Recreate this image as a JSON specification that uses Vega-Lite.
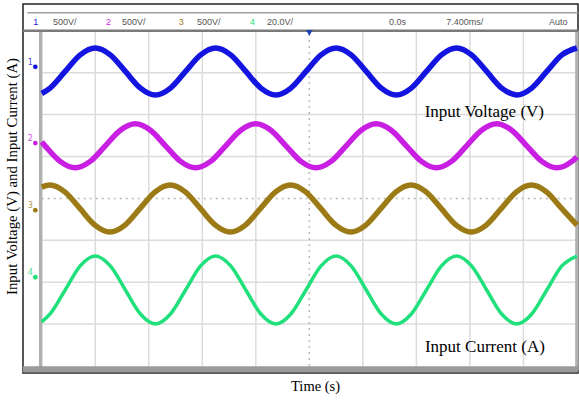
{
  "$schema": "https://vega.github.io/schema/vega-lite/v6.json",
  "width": 555,
  "height": 369,
  "autosize": {"type": "none"},
  "padding": {"left": 23, "top": 4, "right": 1, "bottom": 28},
  "background": "white",
  "config": {"view": {"stroke": "#222", "strokeWidth": 1.5}},
  "datasets": {
    "traces": [
      {"ch": "1", "t": 0, "v": 6.504}, {"ch": "1", "t": 0.156, "v": 6.634}, {"ch": "1", "t": 0.438, "v": 7.03}, {"ch": "1", "t": 0.719, "v": 7.426}, {"ch": "1", "t": 1.0, "v": 7.59}, {"ch": "1", "t": 1.281, "v": 7.426}, {"ch": "1", "t": 1.563, "v": 7.03}, {"ch": "1", "t": 1.844, "v": 6.634}, {"ch": "1", "t": 2.125, "v": 6.47}, {"ch": "1", "t": 2.406, "v": 6.634}, {"ch": "1", "t": 2.688, "v": 7.03}, {"ch": "1", "t": 2.969, "v": 7.426}, {"ch": "1", "t": 3.25, "v": 7.59}, {"ch": "1", "t": 3.531, "v": 7.426}, {"ch": "1", "t": 3.813, "v": 7.03}, {"ch": "1", "t": 4.094, "v": 6.634}, {"ch": "1", "t": 4.375, "v": 6.47}, {"ch": "1", "t": 4.656, "v": 6.634}, {"ch": "1", "t": 4.938, "v": 7.03}, {"ch": "1", "t": 5.219, "v": 7.426}, {"ch": "1", "t": 5.5, "v": 7.59}, {"ch": "1", "t": 5.781, "v": 7.426}, {"ch": "1", "t": 6.063, "v": 7.03}, {"ch": "1", "t": 6.344, "v": 6.634}, {"ch": "1", "t": 6.625, "v": 6.47}, {"ch": "1", "t": 6.906, "v": 6.634}, {"ch": "1", "t": 7.188, "v": 7.03}, {"ch": "1", "t": 7.469, "v": 7.426}, {"ch": "1", "t": 7.75, "v": 7.59}, {"ch": "1", "t": 8.031, "v": 7.426}, {"ch": "1", "t": 8.313, "v": 7.03}, {"ch": "1", "t": 8.594, "v": 6.634}, {"ch": "1", "t": 8.875, "v": 6.47}, {"ch": "1", "t": 9.156, "v": 6.634}, {"ch": "1", "t": 9.438, "v": 7.03}, {"ch": "1", "t": 9.719, "v": 7.426}, {"ch": "1", "t": 10.0, "v": 7.59},

      {"ch": "2", "t": 0, "v": 5.346}, {"ch": "2", "t": 0.063, "v": 5.255}, {"ch": "2", "t": 0.344, "v": 4.884}, {"ch": "2", "t": 0.625, "v": 4.73}, {"ch": "2", "t": 0.906, "v": 4.884}, {"ch": "2", "t": 1.188, "v": 5.255}, {"ch": "2", "t": 1.469, "v": 5.626}, {"ch": "2", "t": 1.75, "v": 5.78}, {"ch": "2", "t": 2.031, "v": 5.626}, {"ch": "2", "t": 2.313, "v": 5.255}, {"ch": "2", "t": 2.594, "v": 4.884}, {"ch": "2", "t": 2.875, "v": 4.73}, {"ch": "2", "t": 3.156, "v": 4.884}, {"ch": "2", "t": 3.438, "v": 5.255}, {"ch": "2", "t": 3.719, "v": 5.626}, {"ch": "2", "t": 4.0, "v": 5.78}, {"ch": "2", "t": 4.281, "v": 5.626}, {"ch": "2", "t": 4.563, "v": 5.255}, {"ch": "2", "t": 4.844, "v": 4.884}, {"ch": "2", "t": 5.125, "v": 4.73}, {"ch": "2", "t": 5.406, "v": 4.884}, {"ch": "2", "t": 5.688, "v": 5.255}, {"ch": "2", "t": 5.969, "v": 5.626}, {"ch": "2", "t": 6.25, "v": 5.78}, {"ch": "2", "t": 6.531, "v": 5.626}, {"ch": "2", "t": 6.813, "v": 5.255}, {"ch": "2", "t": 7.094, "v": 4.884}, {"ch": "2", "t": 7.375, "v": 4.73}, {"ch": "2", "t": 7.656, "v": 4.884}, {"ch": "2", "t": 7.938, "v": 5.255}, {"ch": "2", "t": 8.219, "v": 5.626}, {"ch": "2", "t": 8.5, "v": 5.78}, {"ch": "2", "t": 8.781, "v": 5.626}, {"ch": "2", "t": 9.063, "v": 5.255}, {"ch": "2", "t": 9.344, "v": 4.884}, {"ch": "2", "t": 9.625, "v": 4.73}, {"ch": "2", "t": 9.906, "v": 4.884}, {"ch": "2", "t": 10.0, "v": 4.99},

      {"ch": "3", "t": 0, "v": 4.27}, {"ch": "3", "t": 0.15, "v": 4.32}, {"ch": "3", "t": 0.431, "v": 4.156}, {"ch": "3", "t": 0.713, "v": 3.76}, {"ch": "3", "t": 0.994, "v": 3.364}, {"ch": "3", "t": 1.275, "v": 3.2}, {"ch": "3", "t": 1.556, "v": 3.364}, {"ch": "3", "t": 1.838, "v": 3.76}, {"ch": "3", "t": 2.119, "v": 4.156}, {"ch": "3", "t": 2.4, "v": 4.32}, {"ch": "3", "t": 2.681, "v": 4.156}, {"ch": "3", "t": 2.963, "v": 3.76}, {"ch": "3", "t": 3.244, "v": 3.364}, {"ch": "3", "t": 3.525, "v": 3.2}, {"ch": "3", "t": 3.806, "v": 3.364}, {"ch": "3", "t": 4.088, "v": 3.76}, {"ch": "3", "t": 4.369, "v": 4.156}, {"ch": "3", "t": 4.65, "v": 4.32}, {"ch": "3", "t": 4.931, "v": 4.156}, {"ch": "3", "t": 5.213, "v": 3.76}, {"ch": "3", "t": 5.494, "v": 3.364}, {"ch": "3", "t": 5.775, "v": 3.2}, {"ch": "3", "t": 6.056, "v": 3.364}, {"ch": "3", "t": 6.338, "v": 3.76}, {"ch": "3", "t": 6.619, "v": 4.156}, {"ch": "3", "t": 6.9, "v": 4.32}, {"ch": "3", "t": 7.181, "v": 4.156}, {"ch": "3", "t": 7.463, "v": 3.76}, {"ch": "3", "t": 7.744, "v": 3.364}, {"ch": "3", "t": 8.025, "v": 3.2}, {"ch": "3", "t": 8.306, "v": 3.364}, {"ch": "3", "t": 8.588, "v": 3.76}, {"ch": "3", "t": 8.869, "v": 4.156}, {"ch": "3", "t": 9.15, "v": 4.32}, {"ch": "3", "t": 9.431, "v": 4.156}, {"ch": "3", "t": 9.713, "v": 3.76}, {"ch": "3", "t": 10.0, "v": 3.36},

      {"ch": "4", "t": 0, "v": 1.054}, {"ch": "4", "t": 0.156, "v": 1.242}, {"ch": "4", "t": 0.438, "v": 1.815}, {"ch": "4", "t": 0.719, "v": 2.388}, {"ch": "4", "t": 1.0, "v": 2.625}, {"ch": "4", "t": 1.281, "v": 2.388}, {"ch": "4", "t": 1.563, "v": 1.815}, {"ch": "4", "t": 1.844, "v": 1.242}, {"ch": "4", "t": 2.125, "v": 1.005}, {"ch": "4", "t": 2.406, "v": 1.242}, {"ch": "4", "t": 2.688, "v": 1.815}, {"ch": "4", "t": 2.969, "v": 2.388}, {"ch": "4", "t": 3.25, "v": 2.625}, {"ch": "4", "t": 3.531, "v": 2.388}, {"ch": "4", "t": 3.813, "v": 1.815}, {"ch": "4", "t": 4.094, "v": 1.242}, {"ch": "4", "t": 4.375, "v": 1.005}, {"ch": "4", "t": 4.656, "v": 1.242}, {"ch": "4", "t": 4.938, "v": 1.815}, {"ch": "4", "t": 5.219, "v": 2.388}, {"ch": "4", "t": 5.5, "v": 2.625}, {"ch": "4", "t": 5.781, "v": 2.388}, {"ch": "4", "t": 6.063, "v": 1.815}, {"ch": "4", "t": 6.344, "v": 1.242}, {"ch": "4", "t": 6.625, "v": 1.005}, {"ch": "4", "t": 6.906, "v": 1.242}, {"ch": "4", "t": 7.188, "v": 1.815}, {"ch": "4", "t": 7.469, "v": 2.388}, {"ch": "4", "t": 7.75, "v": 2.625}, {"ch": "4", "t": 8.031, "v": 2.388}, {"ch": "4", "t": 8.313, "v": 1.815}, {"ch": "4", "t": 8.594, "v": 1.242}, {"ch": "4", "t": 8.875, "v": 1.005}, {"ch": "4", "t": 9.156, "v": 1.242}, {"ch": "4", "t": 9.438, "v": 1.815}, {"ch": "4", "t": 9.719, "v": 2.388}, {"ch": "4", "t": 10.0, "v": 2.625}
    ],
    "segs": [
      {"k": "g", "x": 1, "y": 0, "x2": 1, "y2": 8}, {"k": "g", "x": 2, "y": 0, "x2": 2, "y2": 8}, {"k": "g", "x": 3, "y": 0, "x2": 3, "y2": 8}, {"k": "g", "x": 4, "y": 0, "x2": 4, "y2": 8}, {"k": "g", "x": 6, "y": 0, "x2": 6, "y2": 8}, {"k": "g", "x": 7, "y": 0, "x2": 7, "y2": 8}, {"k": "g", "x": 8, "y": 0, "x2": 8, "y2": 8}, {"k": "g", "x": 9, "y": 0, "x2": 9, "y2": 8},
      {"k": "g", "x": 0, "y": 1, "x2": 10, "y2": 1}, {"k": "g", "x": 0, "y": 2, "x2": 10, "y2": 2}, {"k": "g", "x": 0, "y": 3, "x2": 10, "y2": 3}, {"k": "g", "x": 0, "y": 5, "x2": 10, "y2": 5}, {"k": "g", "x": 0, "y": 6, "x2": 10, "y2": 6}, {"k": "g", "x": 0, "y": 7, "x2": 10, "y2": 7},
      {"k": "c", "x": 5, "y": 0, "x2": 5, "y2": 8}, {"k": "c", "x": 0, "y": 4, "x2": 10, "y2": 4},
      {"k": "b", "x": -0.02, "y": -0.1, "x2": -0.02, "y2": 8}, {"k": "b", "x": 10.0, "y": -0.1, "x2": 10.0, "y2": 8},
      {"k": "f", "x": -0.35, "y": -0.08, "x2": 10.02, "y2": -0.08},
      {"k": "top", "x": -0.35, "y": 8, "x2": 10.02, "y2": 8},
      {"k": "top2", "x": -0.27, "y": 8.43, "x2": 10.02, "y2": 8.43}
    ],
    "status": [
      {"x": -0.16, "t": "1", "ch": "1"}, {"x": 0.21, "t": "500V/", "ch": "t"},
      {"x": 1.2, "t": "2", "ch": "2"}, {"x": 1.5, "t": "500V/", "ch": "t"},
      {"x": 2.56, "t": "3", "ch": "3"}, {"x": 2.9, "t": "500V/", "ch": "t"},
      {"x": 3.89, "t": "4", "ch": "4"}, {"x": 4.21, "t": "20.0V/", "ch": "t"},
      {"x": 6.49, "t": "0.0s", "ch": "t"}, {"x": 7.56, "t": "7.400ms/", "ch": "t"},
      {"x": 9.48, "t": "Auto", "ch": "t"}
    ],
    "markers": [
      {"ch": "1", "x": -0.12, "y": 7.14}, {"ch": "2", "x": -0.12, "y": 5.32}, {"ch": "3", "x": -0.12, "y": 3.72}, {"ch": "4", "x": -0.12, "y": 2.12}
    ],
    "notes": [
      {"x": 8.27, "y": 6.06, "t": "Input Voltage (V)"}, {"x": 8.28, "y": 0.45, "t": "Input Current (A)"}
    ]
  },
  "layer": [
    {
      "data": {"name": "segs"},
      "transform": [{"filter": "datum.k === 'g'"}],
      "mark": {"type": "rule", "color": "#dcdcdc", "strokeWidth": 1.5},
      "encoding": {
        "x": {"field": "x", "type": "quantitative", "scale": {"domain": [-0.35, 10.02], "nice": false, "zero": false},
          "axis": {"title": "Time (s)", "domain": false, "ticks": false, "labels": false, "grid": false, "titleFont": "Liberation Serif", "titleFontSize": 14.5, "titleFontWeight": "normal", "titleColor": "#000", "titleX": 292, "titleY": 13, "titleBaseline": "middle", "titleAlign": "center", "titleAnchor": null}},
        "x2": {"field": "x2"},
        "y": {"field": "y", "type": "quantitative", "scale": {"domain": [-0.167, 8.64], "nice": false, "zero": false},
          "axis": {"title": "Input Voltage (V) and Input Current (A)", "domain": false, "ticks": false, "labels": false, "grid": false, "titleFont": "Liberation Serif", "titleFontSize": 14.8, "titleFontWeight": "normal", "titleColor": "#000", "titleX": -11, "titleY": 172, "titleAngle": -90, "titleBaseline": "middle", "titleAlign": "center", "titleAnchor": null}},
        "y2": {"field": "y2"}
      }
    },
    {
      "data": {"name": "segs"},
      "transform": [{"filter": "datum.k === 'c'"}],
      "mark": {"type": "rule", "color": "#b8b8b8", "strokeWidth": 1.5, "strokeDash": [2, 4]},
      "encoding": {"x": {"field": "x", "type": "quantitative"}, "x2": {"field": "x2"}, "y": {"field": "y", "type": "quantitative"}, "y2": {"field": "y2"}}
    },
    {
      "data": {"name": "segs"},
      "transform": [{"filter": "datum.k === 'b'"}],
      "mark": {"type": "rule", "color": "#b0b0b0", "strokeWidth": 3.5},
      "encoding": {"x": {"field": "x", "type": "quantitative"}, "x2": {"field": "x2"}, "y": {"field": "y", "type": "quantitative"}, "y2": {"field": "y2"}}
    },
    {
      "data": {"name": "segs"},
      "transform": [{"filter": "datum.k === 'f'"}],
      "mark": {"type": "rule", "color": "#9a9a9a", "strokeWidth": 6},
      "encoding": {"x": {"field": "x", "type": "quantitative"}, "x2": {"field": "x2"}, "y": {"field": "y", "type": "quantitative"}, "y2": {"field": "y2"}}
    },
    {
      "data": {"name": "segs"},
      "transform": [{"filter": "datum.k === 'top'"}],
      "mark": {"type": "rule", "color": "#7a7a7a", "strokeWidth": 2.5},
      "encoding": {"x": {"field": "x", "type": "quantitative"}, "x2": {"field": "x2"}, "y": {"field": "y", "type": "quantitative"}, "y2": {"field": "y2"}}
    },
    {
      "data": {"name": "segs"},
      "transform": [{"filter": "datum.k === 'top2'"}],
      "mark": {"type": "rule", "color": "#a0a0a0", "strokeWidth": 1.5},
      "encoding": {"x": {"field": "x", "type": "quantitative"}, "x2": {"field": "x2"}, "y": {"field": "y", "type": "quantitative"}, "y2": {"field": "y2"}}
    },
    {
      "data": {"name": "traces"},
      "transform": [{"filter": "datum.ch !== '4'"}],
      "mark": {"type": "line", "interpolate": "monotone", "strokeWidth": 5.5, "strokeCap": "butt"},
      "encoding": {
        "x": {"field": "t", "type": "quantitative"},
        "y": {"field": "v", "type": "quantitative"},
        "detail": {"field": "ch"},
        "color": {"field": "ch", "type": "nominal", "scale": {"domain": ["1", "2", "3", "4", "t"], "range": ["#1414e0", "#c81fe2", "#9c7b16", "#1fe07a", "#555555"]}, "legend": null}
      }
    },
    {
      "data": {"name": "traces"},
      "transform": [{"filter": "datum.ch === '4'"}],
      "mark": {"type": "line", "interpolate": "monotone", "strokeWidth": 3.5, "strokeCap": "butt"},
      "encoding": {
        "x": {"field": "t", "type": "quantitative"},
        "y": {"field": "v", "type": "quantitative"},
        "color": {"field": "ch", "type": "nominal", "legend": null}
      }
    },
    {
      "data": {"name": "markers"},
      "mark": {"type": "point", "filled": true, "size": 22, "opacity": 1},
      "encoding": {
        "x": {"field": "x", "type": "quantitative"},
        "y": {"field": "y", "type": "quantitative"},
        "color": {"field": "ch", "type": "nominal", "legend": null}
      }
    },
    {
      "data": {"name": "markers"},
      "mark": {"type": "text", "fontSize": 8, "dx": -5, "dy": -4, "font": "DejaVu Sans", "opacity": 0.8},
      "encoding": {
        "x": {"field": "x", "type": "quantitative"},
        "y": {"field": "y", "type": "quantitative"},
        "text": {"field": "ch"},
        "color": {"field": "ch", "type": "nominal", "legend": null}
      }
    },
    {
      "data": {"values": [{"x": 5, "y": 7.95}]},
      "mark": {"type": "point", "shape": "triangle-down", "filled": true, "size": 45, "color": "#1a3fb0", "opacity": 1},
      "encoding": {"x": {"field": "x", "type": "quantitative"}, "y": {"field": "y", "type": "quantitative"}}
    },
    {
      "data": {"name": "status"},
      "mark": {"type": "text", "align": "left", "baseline": "middle", "fontSize": 9, "font": "Liberation Sans"},
      "encoding": {
        "x": {"field": "x", "type": "quantitative"},
        "y": {"datum": 8.21, "type": "quantitative"},
        "text": {"field": "t"},
        "color": {"field": "ch", "type": "nominal", "legend": null}
      }
    },
    {
      "data": {"name": "notes"},
      "mark": {"type": "text", "align": "center", "baseline": "middle", "fontSize": 17, "font": "Liberation Serif", "color": "#000"},
      "encoding": {
        "x": {"field": "x", "type": "quantitative"},
        "y": {"field": "y", "type": "quantitative"},
        "text": {"field": "t"}
      }
    }
  ]
}
